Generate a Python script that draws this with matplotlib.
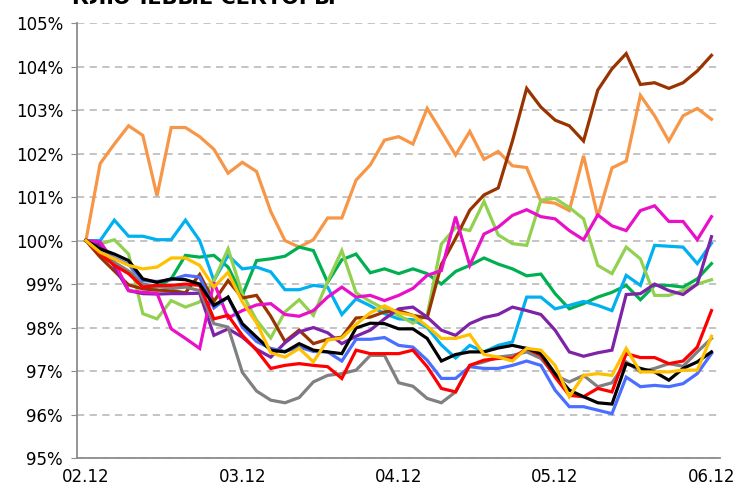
import numpy as np
import matplotlib
matplotlib.use("Agg")
import matplotlib.pyplot as plt
from matplotlib.ticker import FuncFormatter

plt.rcParams["font.family"] = ["DejaVu Sans"]

title = "КЛЮЧЕВЫЕ СЕКТОРЫ"
tick_labels = ["02.12", "03.12", "04.12", "05.12", "06.12"]
tick_idx = [0, 11, 22, 33, 44]

# index values, % of start level
orange = [100, 101.77, 102.22, 102.64, 102.42, 101.03, 102.6, 102.6, 102.39, 102.1,
          101.55, 101.8, 101.59, 100.67, 100.0, 99.85, 100.02, 100.52, 100.52, 101.39,
          101.74, 102.31, 102.39, 102.22, 103.04, 102.51, 101.97, 102.51, 101.87, 102.05,
          101.72, 101.68, 100.9, 100.86, 100.69, 101.95, 100.55, 101.67, 101.83, 103.34,
          102.87, 102.29, 102.87, 103.04, 102.79]
brown = [100, 99.62, 99.3, 98.98, 98.89, 98.86, 98.85, 98.8, 99.22, 98.6,
         99.08, 98.68, 98.74, 98.26, 97.68, 97.94, 97.63, 97.73, 97.78, 98.22,
         98.24, 98.36, 98.39, 98.28, 98.22, 99.45, 100.05, 100.7, 101.05, 101.21,
         102.29, 103.5, 103.07, 102.77, 102.64, 102.29, 103.46, 103.95, 104.3, 103.59,
         103.63, 103.5, 103.63, 103.9, 104.26]
lightgreen = [100, 99.92, 100.02, 99.69, 98.32, 98.2, 98.62, 98.47, 98.59, 99.08,
              99.81, 98.78, 98.17, 97.76, 98.36, 98.64, 98.28, 99.06, 99.77, 98.8,
              98.6, 98.43, 98.28, 98.1, 98.28, 99.92, 100.3, 100.23, 100.9, 100.13,
              99.93, 99.89, 100.93, 100.97, 100.76, 100.5, 99.43, 99.24, 99.85, 99.58,
              98.74, 98.74, 98.85, 99.0, 99.1]
green = [100, 99.66, 99.46, 99.27, 98.93, 98.93, 99.12, 99.66, 99.62, 99.66,
         99.39, 98.74, 99.54, 99.58, 99.64, 99.85, 99.77, 99.04, 99.56, 99.69,
         99.26, 99.35, 99.24, 99.35, 99.24, 99.0, 99.29, 99.43, 99.6, 99.46,
         99.35, 99.19, 99.23, 98.78, 98.43, 98.55, 98.7, 98.81, 98.97, 98.64,
         98.97, 98.97, 98.93, 99.12, 99.47]
lightblue = [100, 100.0, 100.47, 100.1, 100.1, 100.02, 100.02, 100.47, 100.0, 99.08,
             99.66, 99.35, 99.39, 99.28, 98.87, 98.87, 98.97, 98.93, 98.3, 98.66,
             98.5, 98.32, 98.2, 98.18, 98.0, 97.6, 97.3, 97.59, 97.44, 97.59,
             97.67, 98.7, 98.7, 98.43, 98.51, 98.6, 98.51, 98.39, 99.2, 98.97,
             99.89, 99.87, 99.85, 99.47, 99.94]
magenta = [100, 99.97, 99.5, 98.85, 98.81, 98.79, 97.97, 97.75, 97.52, 99.04,
           98.22, 98.39, 98.52, 98.55, 98.3, 98.26, 98.39, 98.7, 98.93, 98.7,
           98.74, 98.62, 98.74, 98.9, 99.2, 99.31, 100.55, 99.43, 100.15, 100.31,
           100.58, 100.71, 100.55, 100.5, 100.23, 100.02, 100.59, 100.34, 100.23, 100.69,
           100.8, 100.44, 100.44, 100.02, 100.55]
purple = [100, 99.9, 99.4, 98.85, 98.78, 98.77, 98.78, 98.78, 98.79, 97.82,
          97.97, 97.78, 97.5, 97.32, 97.65, 97.9, 98.0, 97.88, 97.63, 97.8,
          97.94, 98.2, 98.43, 98.47, 98.24, 97.94, 97.82, 98.09, 98.23, 98.3,
          98.47, 98.39, 98.3, 97.94, 97.44, 97.34, 97.42, 97.48, 98.76, 98.78,
          99.0, 98.85, 98.76, 99.0, 100.09]
black = [100, 99.81, 99.69, 99.54, 99.12, 99.04, 99.12, 99.1, 99.0, 98.51,
         98.7, 98.09, 97.78, 97.48, 97.44, 97.63, 97.48, 97.44, 97.4, 97.99,
         98.1, 98.09, 97.97, 97.97, 97.75, 97.23, 97.38, 97.44, 97.44, 97.53,
         97.59, 97.52, 97.4, 96.94, 96.56, 96.41, 96.27, 96.24, 97.17, 97.06,
         96.98, 96.79, 97.06, 97.21, 97.44]
red = [100, 99.7, 99.43, 99.24, 98.93, 98.97, 98.97, 99.0, 98.97, 98.2,
       98.28, 97.82, 97.48, 97.06, 97.13, 97.17, 97.13, 97.1, 96.83, 97.48,
       97.4, 97.4, 97.4, 97.48, 97.1, 96.6, 96.52, 97.13, 97.25, 97.29,
       97.29, 97.52, 97.36, 96.86, 96.44, 96.41, 96.6, 96.52, 97.4, 97.31,
       97.31, 97.17, 97.23, 97.55, 98.39]
blue = [100, 99.8, 99.6, 99.45, 99.08, 99.06, 99.1, 99.2, 99.16, 98.45,
        98.7, 98.01, 97.68, 97.52, 97.45, 97.55, 97.45, 97.44, 97.23, 97.73,
        97.73, 97.77, 97.59, 97.55, 97.25, 96.83, 96.83, 97.1, 97.06, 97.06,
        97.13, 97.23, 97.13, 96.56, 96.18, 96.18, 96.1, 96.02, 96.86, 96.64,
        96.67, 96.64, 96.71, 96.94, 97.4]
gray = [100, 99.75, 99.5, 99.3, 99.0, 98.95, 98.9, 98.93, 98.85, 98.09,
        98.01, 96.97, 96.54, 96.33, 96.27, 96.39, 96.75, 96.9, 96.94, 97.02,
        97.36, 97.36, 96.73, 96.65, 96.37, 96.27, 96.52, 97.13, 97.21, 97.32,
        97.36, 97.44, 97.29, 96.9, 96.75, 96.9, 96.64, 96.73, 97.21, 96.98,
        97.06, 97.17, 97.11, 97.44, 97.75]
gold = [100, 99.73, 99.58, 99.43, 99.35, 99.39, 99.6, 99.6, 99.43, 98.93,
        99.27, 98.59, 98.11, 97.42, 97.32, 97.52, 97.21, 97.71, 97.76, 98.07,
        98.34, 98.5, 98.34, 98.28, 98.03, 97.75, 97.75, 97.84, 97.38, 97.32,
        97.23, 97.52, 97.48, 97.13, 96.41, 96.9, 96.94, 96.9, 97.52, 96.98,
        96.98, 96.98, 97.02, 97.02, 97.8]

series = [
    (orange, "#F79646"),
    (green, "#00B050"),
    (lightblue, "#00B0F0"),
    (lightgreen, "#92D050"),
    (brown, "#993300"),
    (purple, "#7E22A8"),
    (magenta, "#E810C8"),
    (gray, "#808080"),
    (blue, "#4A6EFF"),
    (red, "#FF0000"),
    (black, "#000000"),
    (gold, "#FFC000"),
]

fig = plt.figure(figsize=(7.4, 4.93), dpi=100)
ax = fig.add_axes([0.104, 0.071, 0.869, 0.882])

x = np.arange(len(orange))
for vals, col in series:
    ax.plot(x, vals, color=col, lw=2.3, solid_joinstyle="miter")

ax.set_ylim(95, 105)
ax.set_xlim(-0.63, 44.6)
ax.set_yticks(np.arange(95, 105.5, 1))
ax.yaxis.set_major_formatter(FuncFormatter(lambda v, p: f"{v:.0f}%"))
ax.set_xticks(tick_idx)
ax.set_xticklabels(tick_labels)
ax.grid(axis="y", color="#BFBFBF", ls=(0, (4, 3)), lw=1.3)
ax.set_axisbelow(True)

for s in ["top", "right"]:
    ax.spines[s].set_visible(False)
for s in ["left", "bottom"]:
    ax.spines[s].set_color("#8C8C8C")
    ax.spines[s].set_linewidth(1.3)

ax.tick_params(axis="y", length=4, color="#8C8C8C", labelsize=12, pad=6)
ax.tick_params(axis="x", length=0, labelsize=12, pad=7)

# title is cropped at the top edge, as in the source picture
fig.text(0.276, 0.991, title, fontsize=15, fontweight="bold", ha="center", va="baseline")

fig.savefig("out.png", dpi=100)
plt.close(fig)
